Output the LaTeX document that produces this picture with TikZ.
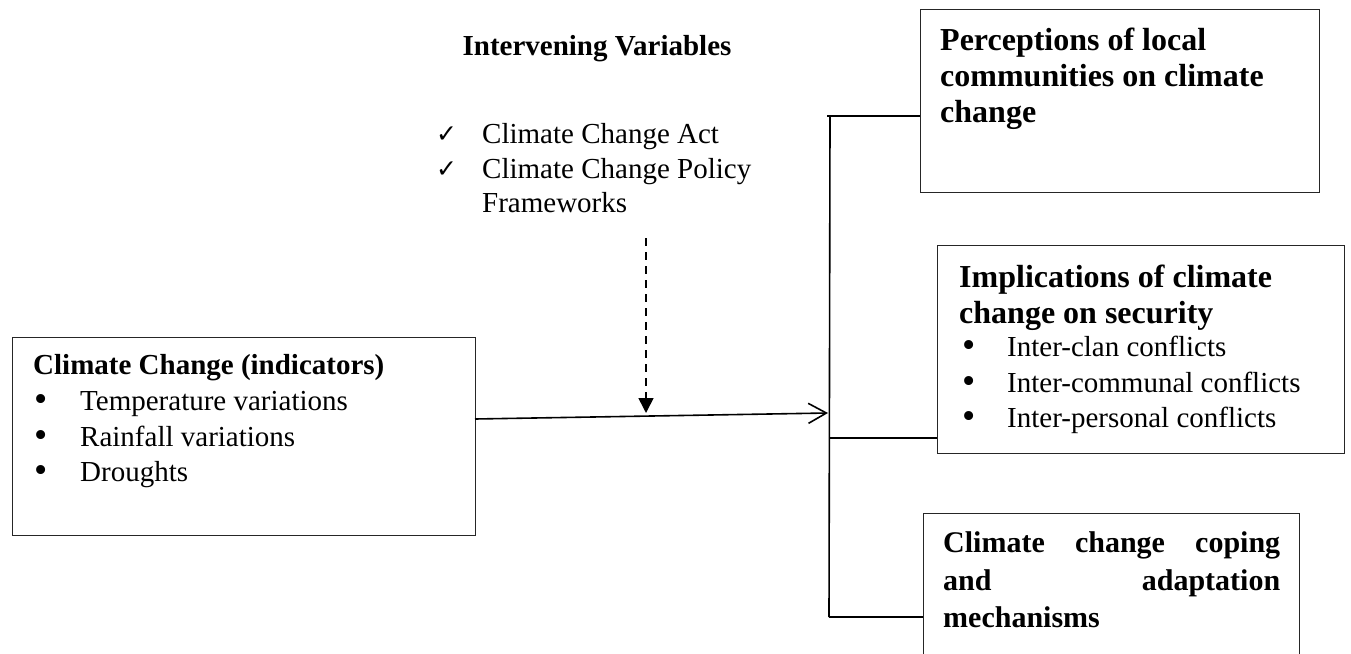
\documentclass[tikz,border=0pt]{standalone}
\usepackage{fontspec}
\setmainfont{Liberation Serif}
\newfontfamily\dejavu{DejaVu Sans}
\usetikzlibrary{arrows.meta}
\newcommand{\bigbul}{\smash{\raisebox{-1pt}{\scalebox{1.3}{\textbullet}}}}
\begin{document}
\begin{tikzpicture}[x=1pt,y=-1pt,
  box/.style={draw=black!85, line width=1.3pt, inner sep=0pt, anchor=north west},
  conn/.style={draw=black, line width=1.6pt},
  reg/.style={anchor=base west, inner sep=0pt, font=\fontsize{29}{35}\selectfont},
  hdr/.style={anchor=base west, inner sep=0pt, font=\fontsize{29}{35}\selectfont\bfseries},
  bighdr/.style={anchor=base west, inner sep=0pt, font=\fontsize{32}{36}\selectfont\bfseries},
  midhdr/.style={anchor=base west, inner sep=0pt, font=\fontsize{30}{36}\selectfont\bfseries},
  bul/.style={anchor=base west, inner sep=0pt, font=\fontsize{29}{35}\selectfont},
  chk/.style={anchor=base west, inner sep=0pt, font=\dejavu\fontsize{25}{28}\selectfont}]
\clip (0,0) rectangle (1351,653);
\fill[white] (0,0) rectangle (1351,653);

% boxes
\node[box, minimum width=399pt, minimum height=183pt] (perc) at (920,9) {};
\node[box, minimum width=407pt, minimum height=208pt] (mid) at (937,245) {};
\node[box, minimum width=376pt, minimum height=170pt] (cope) at (923,513) {};
\node[box, minimum width=463pt, minimum height=198pt] (cc) at (12,337) {};

% intervening variables
\node[hdr, anchor=base] (iv) at (597,55) {Intervening Variables};
\node[chk] (c1) at (436,142) {✓};
\node[reg] (iv1) at (482,143) {Climate Change Act};
\node[chk] (c2) at (436,177) {✓};
\node[reg] (iv2) at (482,178) {Climate Change Policy};
\node[reg] (iv3) at (482,212) {Frameworks};

% perceptions
\node[bighdr] (p1) at (940,50) {Perceptions of local};
\node[bighdr] (p2) at (940,86) {communities on climate};
\node[bighdr] (p3) at (940,122) {change};

% implications
\node[bighdr] (m1) at (959,287) {Implications of climate};
\node[bighdr] (m2) at (959,323) {change on security};
\node[bul] (mb1) at (962,356) {\bigbul};
\node[reg] (mt1) at (1007,356) {Inter-clan conflicts};
\node[bul] (mb2) at (962,392) {\bigbul};
\node[reg] (mt2) at (1007,392) {Inter-communal conflicts};
\node[bul] (mb3) at (962,427) {\bigbul};
\node[reg] (mt3) at (1007,427) {Inter-personal conflicts};

% coping
\node[midhdr] (k1) at (943,552) {\makebox[337pt]{Climate\hfill change\hfill coping}};
\node[midhdr] (k2) at (943,590) {\makebox[337pt]{and\hfill adaptation}};
\node[midhdr] (k3) at (943,627) {mechanisms};

% climate change indicators
\node[hdr] (h1) at (33,374) {Climate Change (indicators)};
\node[bul] (b1) at (34,410) {\bigbul};
\node[reg] (t1) at (80,410) {Temperature variations};
\node[bul] (b2) at (34,446) {\bigbul};
\node[reg] (t2) at (80,446) {Rainfall variations};
\node[bul] (b3) at (34,481) {\bigbul};
\node[reg] (t3) at (80,481) {Droughts};

% connectors
\coordinate (busTop) at (830,117);
\coordinate (busBot) at (829,617);
\coordinate (busMid) at (830,438);
\coordinate (branchTop) at (827,116);
\coordinate (ccOut) at (475,419);
\coordinate (arrTip) at (828,413);
\coordinate (dashTop) at (646,238);
\coordinate (dashTip) at (646,413);

\draw[conn] (busTop) -- (busBot);
\draw[conn] (branchTop) -- (perc.west |- branchTop);
\draw[conn] (busMid) -- (mid.west |- busMid);
\draw[conn] (busBot) -- (cope.west |- busBot);
\draw[conn, -{Straight Barb[length=18pt, width=20pt, line width=1.6pt]}] (ccOut) -- (arrTip);
\draw[conn, dash pattern=on 8pt off 6pt, -{Triangle[length=15pt, width=15pt]}] (dashTop) -- (dashTip);
\end{tikzpicture}
\end{document}
